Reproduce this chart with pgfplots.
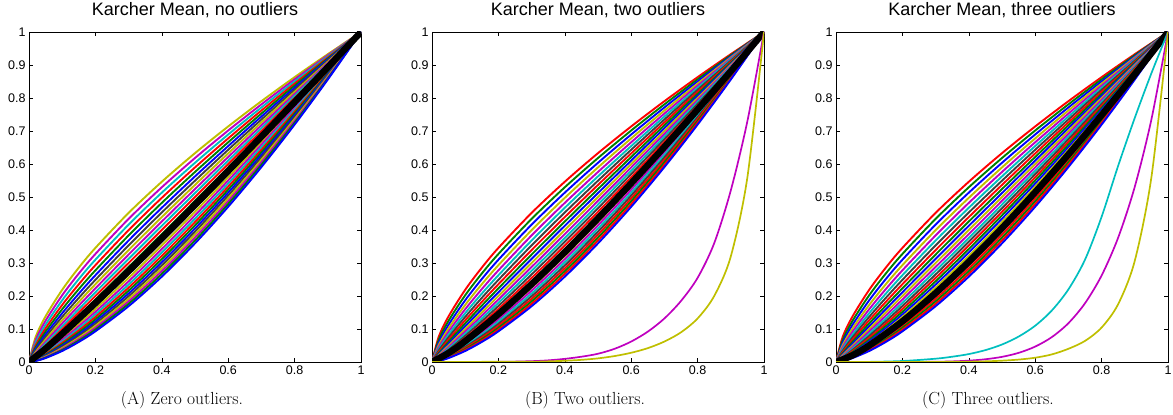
\documentclass[border=0pt]{standalone}
\usepackage{fontspec}
\setsansfont{Liberation Sans}
\usepackage{pgfplots}
\usepackage{pgfplotstable}
\pgfplotsset{compat=1.18}

% MATLAB colour order
\definecolor{mlb}{rgb}{0,0,1}
\definecolor{mlg}{rgb}{0,0.5,0}
\definecolor{mlr}{rgb}{1,0,0}
\definecolor{mlc}{rgb}{0,0.75,0.75}
\definecolor{mlm}{rgb}{0.75,0,0.75}
\definecolor{mly}{rgb}{0.75,0.75,0}
\definecolor{mlk}{rgb}{0.25,0.25,0.25}

% family of warping functions (columns c0..c24), shared by the three panels
\pgfplotstableread{
x c0 c1 c2 c3 c4 c5 c6 c7 c8 c9 c10 c11 c12 c13 c14 c15 c16 c17 c18 c19 c20 c21 c22 c23 c24
0 0 0 0 0 0 0 0 0 0 0 0 0 0 0 0 0 0 0 0 0 0 0 0 0 0
0.02 0.0756 0.0662 0.0580 0.0508 0.0444 0.0389 0.0341 0.0298 0.0261 0.0228 0.0200 0.0175 0.0153 0.0134 0.0118 0.0103 0.0090 0.0079 0.0069 0.0060 0.0053 0.0046 0.0041 0.0035 0.0031
0.05 0.1385 0.1251 0.1129 0.1020 0.0921 0.0832 0.0751 0.0679 0.0613 0.0554 0.0500 0.0452 0.0408 0.0368 0.0333 0.0300 0.0271 0.0245 0.0221 0.0200 0.0181 0.0163 0.0147 0.0133 0.0120
0.1 0.2188 0.2023 0.1871 0.1730 0.1600 0.1479 0.1368 0.1265 0.1169 0.1081 0.1000 0.0925 0.0855 0.0791 0.0731 0.0676 0.0625 0.0578 0.0535 0.0494 0.0457 0.0423 0.0391 0.0361 0.0334
0.15 0.2859 0.2680 0.2513 0.2356 0.2209 0.2071 0.1942 0.1820 0.1707 0.1600 0.1500 0.1406 0.1319 0.1236 0.1159 0.1087 0.1019 0.0955 0.0895 0.0840 0.0787 0.0738 0.0692 0.0649 0.0608
0.2 0.3457 0.3273 0.3099 0.2934 0.2777 0.2629 0.2489 0.2357 0.2231 0.2113 0.2000 0.1894 0.1793 0.1697 0.1607 0.1521 0.1440 0.1364 0.1291 0.1222 0.1157 0.1096 0.1037 0.0982 0.0930
0.3 0.4518 0.4336 0.4162 0.3995 0.3835 0.3681 0.3534 0.3392 0.3256 0.3125 0.3000 0.2880 0.2764 0.2653 0.2547 0.2445 0.2347 0.2253 0.2162 0.2075 0.1992 0.1912 0.1836 0.1762 0.1691
0.4 0.5462 0.5295 0.5132 0.4975 0.4822 0.4674 0.4531 0.4392 0.4257 0.4127 0.4000 0.3877 0.3758 0.3643 0.3531 0.3423 0.3318 0.3216 0.3118 0.3022 0.2929 0.2839 0.2752 0.2668 0.2586
0.5 0.6329 0.6181 0.6037 0.5897 0.5759 0.5625 0.5494 0.5366 0.5241 0.5119 0.5000 0.4884 0.4770 0.4659 0.4550 0.4444 0.4341 0.4240 0.4141 0.4044 0.3950 0.3858 0.3768 0.3681 0.3595
0.6 0.7138 0.7015 0.6894 0.6776 0.6659 0.6544 0.6432 0.6321 0.6212 0.6105 0.6000 0.5897 0.5795 0.5696 0.5597 0.5501 0.5406 0.5313 0.5222 0.5132 0.5044 0.4957 0.4871 0.4788 0.4705
0.7 0.7903 0.7807 0.7713 0.7620 0.7528 0.7438 0.7348 0.7259 0.7172 0.7085 0.7000 0.6916 0.6832 0.6750 0.6669 0.6588 0.6509 0.6430 0.6353 0.6276 0.6201 0.6126 0.6052 0.5979 0.5907
0.8 0.8631 0.8565 0.8501 0.8436 0.8373 0.8309 0.8247 0.8184 0.8122 0.8061 0.8000 0.7940 0.7880 0.7820 0.7761 0.7702 0.7644 0.7586 0.7529 0.7472 0.7416 0.7360 0.7304 0.7249 0.7194
0.9 0.9328 0.9295 0.9262 0.9228 0.9195 0.9163 0.9130 0.9097 0.9065 0.9032 0.9000 0.8968 0.8936 0.8904 0.8872 0.8840 0.8809 0.8777 0.8746 0.8714 0.8683 0.8652 0.8621 0.8590 0.8560
1 1 1 1 1 1 1 1 1 1 1 1 1 1 1 1 1 1 1 1 1 1 1 1 1 1
}\famtab

\pgfplotscreateplotcyclelist{famA}{mly\\mlm\\mlc\\mlr\\mlg\\mlb\\mlk\\mly\\mlm\\mlc\\mlr\\mlg\\mlb\\mlk\\mly\\mlm\\mlc\\mlr\\mlg\\mlb\\mlk\\mly\\mlm\\mlg\\mlb\\}
\pgfplotscreateplotcyclelist{famB}{mlr\\mlg\\mlb\\mly\\mlm\\mlc\\mlk\\mlr\\mlg\\mlb\\mly\\mlm\\mlc\\mlk\\mlr\\mlg\\mlb\\mly\\mlm\\mlc\\mlk\\mlr\\mlg\\mlr\\mlb\\}

\pgfplotsset{
  karcher/.style={
    scale only axis, width=332pt, height=330pt,
    xmin=0, xmax=1, ymin=0, ymax=1,
    xtick={0,0.2,0.4,0.6,0.8,1},
    ytick={0,0.1,0.2,0.3,0.4,0.5,0.6,0.7,0.8,0.9,1},
    tick label style={font=\sffamily\fontsize{12.5}{12.5}\selectfont},
    /pgf/number format/assume math mode=true,
    title style={font=\sffamily\fontsize{18}{18}\selectfont, at={(0.5,1)}, anchor=base, yshift=10pt},
    axis line style={line width=0.8pt},
    major tick length=4pt,
    tick style={black, line width=0.6pt},
    every axis plot/.append style={no markers, smooth},
  },
  famline/.style={line width=1.9pt},
  meanline/.style={black, line width=6.5pt},
  outline/.style={line width=1.7pt},
}

\begin{document}
\begin{tikzpicture}
\path[use as bounding box] (0,0) rectangle (1173pt,415pt);

% (A)
\begin{axis}[karcher, at={(29pt,53pt)}, anchor=south west,
  title={Karcher Mean, no outliers}, cycle list name=famA]
\pgfplotsinvokeforeach{0,...,24}{\addplot+[famline] table[x=x,y=c#1]{\famtab};}
\addplot[meanline] coordinates {(0,0) (0.05,0.0405) (0.1,0.0851) (0.2,0.1787) (0.3,0.2757) (0.4,0.3752) (0.5,0.4763) (0.6,0.5789) (0.7,0.6827) (0.8,0.7877) (0.9,0.8933) (1,1)};
\end{axis}

% (B)
\begin{axis}[karcher, at={(432pt,53pt)}, anchor=south west,
  title={Karcher Mean, two outliers}, cycle list name=famB]
\pgfplotsinvokeforeach{0,...,24}{\addplot+[famline] table[x=x,y=c#1]{\famtab};}
\addplot[meanline] coordinates {(0,0) (0.05,0.0275) (0.1,0.0631) (0.2,0.1450) (0.3,0.2358) (0.4,0.3330) (0.5,0.4353) (0.6,0.5417) (0.7,0.6518) (0.8,0.7651) (0.9,0.8812) (1,1)};
\addplot[outline, mlm] coordinates {(0,0) (0.2,0.0004) (0.3,0.0025) (0.35,0.0050) (0.4,0.0095) (0.45,0.0160) (0.5,0.025) (0.55,0.040) (0.6,0.062) (0.65,0.092) (0.7,0.132) (0.75,0.185) (0.8,0.255) (0.85,0.360) (0.9,0.520) (0.95,0.730) (1,1)};
\addplot[outline, mly] coordinates {(0,0) (0.3,0.0010) (0.35,0.0020) (0.4,0.0037) (0.45,0.0065) (0.5,0.011) (0.55,0.018) (0.6,0.028) (0.65,0.042) (0.7,0.062) (0.75,0.090) (0.8,0.132) (0.85,0.200) (0.9,0.320) (0.95,0.560) (1,1)};
\end{axis}

% (C)
\begin{axis}[karcher, at={(836pt,53pt)}, anchor=south west,
  title={Karcher Mean, three outliers}, cycle list name=famB]
\pgfplotsinvokeforeach{0,...,24}{\addplot+[famline] table[x=x,y=c#1]{\famtab};}
\addplot[meanline] coordinates {(0,0) (0.05,0.0204) (0.1,0.0501) (0.2,0.1234) (0.3,0.2090) (0.4,0.3039) (0.5,0.4061) (0.6,0.5148) (0.7,0.6289) (0.8,0.7483) (0.9,0.8720) (1,1)};
\addplot[outline, mlc] coordinates {(0,0) (0.1,0.0004) (0.2,0.003) (0.3,0.010) (0.35,0.016) (0.4,0.024) (0.45,0.036) (0.5,0.053) (0.55,0.077) (0.6,0.110) (0.65,0.156) (0.7,0.220) (0.75,0.310) (0.8,0.440) (0.85,0.595) (0.9,0.740) (0.95,0.875) (1,1)};
\addplot[outline, mlm] coordinates {(0,0) (0.2,0.0001) (0.3,0.0007) (0.35,0.0018) (0.4,0.0041) (0.45,0.0083) (0.5,0.0156) (0.55,0.0277) (0.6,0.0467) (0.65,0.0754) (0.7,0.1176) (0.75,0.1780) (0.8,0.2621) (0.85,0.3772) (0.9,0.5314) (0.95,0.7351) (1,1)};
\addplot[outline, mly] coordinates {(0,0) (0.35,0.0005) (0.4,0.0010) (0.45,0.0020) (0.5,0.0040) (0.55,0.0073) (0.6,0.0130) (0.65,0.0230) (0.7,0.0400) (0.75,0.0639) (0.8,0.1044) (0.85,0.1755) (0.9,0.3070) (0.95,0.5600) (1,1)};
\end{axis}

\node[anchor=base, font=\fontsize{17.5}{17.5}\selectfont] at (182pt,10pt) {(A) Zero outliers.};
\node[anchor=base, font=\fontsize{17.5}{17.5}\selectfont] at (585pt,10pt) {(B) Two outliers.};
\node[anchor=base, font=\fontsize{17.5}{17.5}\selectfont] at (988pt,10pt) {(C) Three outliers.};
\end{tikzpicture}
\end{document}
